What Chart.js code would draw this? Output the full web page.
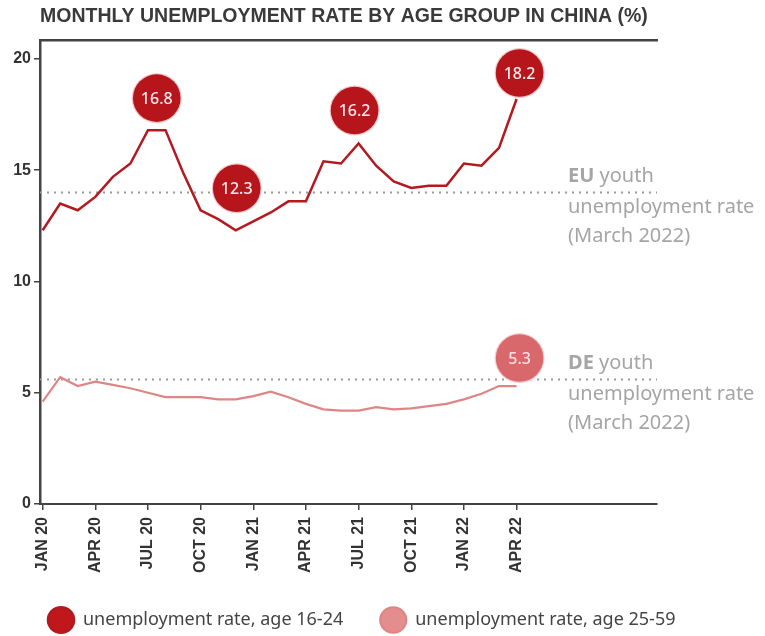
<!DOCTYPE html>
<html><head><meta charset="utf-8">
<script src="https://cdn.jsdelivr.net/npm/chart.js@4/dist/chart.umd.min.js"></script>
<style>html,body{margin:0;padding:0;background:#fff}#wrap{width:765px;height:636px;position:relative}</style>
</head><body><div id="wrap"><canvas id="c"></canvas></div>
<script>
const months = ['JAN 20','FEB 20','MAR 20','APR 20','MAY 20','JUN 20','JUL 20','AUG 20','SEP 20','OCT 20','NOV 20','DEC 20',
  'JAN 21','FEB 21','MAR 21','APR 21','MAY 21','JUN 21','JUL 21','AUG 21','SEP 21','OCT 21','NOV 21','DEC 21',
  'JAN 22','FEB 22','MAR 22','APR 22'];
const tickLabels = ['JAN 20','APR 20','JUL 20','OCT 20','JAN 21','APR 21','JUL 21','OCT 21','JAN 22','APR 22'];
const yTickValues = [0, 5, 10, 15, 20];
const youth16to24 = [12.3,13.5,13.2,13.8,14.7,15.3,16.8,16.8,14.9,13.2,12.8,12.3,12.7,13.1,13.6,13.6,15.4,15.3,16.2,15.2,14.5,14.2,14.3,14.3,15.3,15.2,16.0,18.2];
const adult25to59 = [4.6,5.7,5.3,5.5,5.35,5.2,5.0,4.8,4.8,4.8,4.7,4.7,4.85,5.05,4.8,4.5,4.25,4.2,4.2,4.35,4.25,4.3,4.4,4.5,4.7,4.95,5.3,5.3];
const seriesNames = ['unemployment rate, age 16-24', 'unemployment rate, age 25-59'];
const euYouthRate = 14.0;
const deYouthRate = 5.6;
const refNoteBold = ['EU', 'DE'];
const refNoteRest = [' youth', 'unemployment rate', '(March 2022)'];
const chartTitle = 'MONTHLY UNEMPLOYMENT RATE BY AGE GROUP IN CHINA (%)';

const X_MIN = -0.15, X_MAX = 35, Y_MAX = 20.85;
const COL_YOUTH = '#b3191f', COL_ADULT = '#df8585';

const callouts = [
  {ds: 0, idx: [6, 7], dx: 0, dy: -32, fill: '#b5151b', ring: '#f2c6c6', text: '#fdeeee'},
  {ds: 0, idx: [11], dx: 1, dy: -42, fill: '#b5151b', ring: '#f2c6c6', text: '#fdeeee'},
  {ds: 0, idx: [18], dx: -4, dy: -33, fill: '#b5151b', ring: '#f2c6c6', text: '#fdeeee'},
  {ds: 0, idx: [27], dx: 3, dy: -26, fill: '#b5151b', ring: '#f2c6c6', text: '#fdeeee'},
  {ds: 1, idx: [27], dx: 3, dy: -28, fill: '#d9686d', ring: '#f4d0d0', text: '#fbe3e3'}
];

const calloutPlugin = {
  id: 'callouts',
  afterDatasetsDraw(chart) {
    const ctx = chart.ctx;
    callouts.forEach(c => {
      const meta = chart.getDatasetMeta(c.ds);
      const pts = c.idx.map(i => meta.data[i]);
      const x = pts.reduce((s, p) => s + p.x, 0) / pts.length + c.dx;
      const y = pts.reduce((s, p) => s + p.y, 0) / pts.length + c.dy;
      const val = chart.data.datasets[c.ds].data[c.idx[0]].y;
      ctx.save();
      ctx.beginPath();
      ctx.arc(x, y, 25, 0, Math.PI * 2);
      ctx.fillStyle = c.ring;
      ctx.fill();
      ctx.beginPath();
      ctx.arc(x, y, 23.8, 0, Math.PI * 2);
      ctx.fillStyle = c.fill;
      ctx.fill();
      ctx.fillStyle = c.text;
      ctx.font = '500 16px "Noto Sans"';
      ctx.textAlign = 'center';
      ctx.textBaseline = 'middle';
      ctx.fillText(val.toFixed(1), x, y + 1);
      ctx.restore();
    });
  }
};

const notesPlugin = {
  id: 'refNotes',
  afterDraw(chart) {
    const ctx = chart.ctx;
    const ys = chart.scales.y;
    const x0 = chart.chartArea.right - 89;
    [euYouthRate, deYouthRate].forEach((v, k) => {
      const yRef = ys.getPixelForValue(v);
      ctx.save();
      ctx.fillStyle = '#a5a5a5';
      ctx.textBaseline = 'middle';
      ctx.textAlign = 'left';
      ctx.font = 'bold 20px "Noto Sans"';
      ctx.fillText(refNoteBold[k], x0, yRef - 16);
      const w = ctx.measureText(refNoteBold[k]).width;
      ctx.font = '20px "Noto Sans"';
      ctx.fillText(refNoteRest[0], x0 + w, yRef - 16);
      ctx.fillText(refNoteRest[1], x0, yRef + 15);
      ctx.fillText(refNoteRest[2], x0, yRef + 44);
      ctx.restore();
    });
  }
};

const zeroVPad = s => { s.paddingTop = 0; s.paddingBottom = 0; };
const zeroHPad = s => { s.paddingLeft = 0; s.paddingRight = 0; };

new Chart(document.getElementById('c'), {
  type: 'line',
  data: {
    datasets: [
      {label: seriesNames[0], data: youth16to24.map((v, i) => ({x: i, y: v})), borderColor: COL_YOUTH,
       backgroundColor: '#c0171d', borderWidth: 2.5, pointRadius: 0, pointStyle: 'circle', tension: 0, order: 1},
      {label: seriesNames[1], data: adult25to59.map((v, i) => ({x: i, y: v})), borderColor: COL_ADULT,
       backgroundColor: '#e48d8f', borderWidth: 2.2, pointRadius: 0, pointStyle: 'circle', tension: 0, order: 2},
      {label: 'EU', data: [{x: X_MIN, y: euYouthRate}, {x: X_MAX, y: euYouthRate}], borderColor: '#9a9a9a',
       borderWidth: 2, borderDash: [2, 5], pointRadius: 0, order: 3},
      {label: 'DE', data: [{x: X_MIN, y: deYouthRate}, {x: X_MAX, y: deYouthRate}], borderColor: '#9a9a9a',
       borderWidth: 2, borderDash: [2, 5], pointRadius: 0, order: 3}
    ]
  },
  options: {
    responsive: true,
    maintainAspectRatio: false,
    animation: false,
    layout: {padding: {top: 0, left: 11, right: 0, bottom: -3}},
    scales: {
      x: {
        type: 'linear', position: 'bottom', min: X_MIN, max: X_MAX,
        afterBuildTicks: s => { s.ticks = tickLabels.map(l => ({value: months.indexOf(l)})); },
        afterFit: s => { s.height = 70; zeroHPad(s); },
        ticks: {callback: v => months[v], minRotation: 90, maxRotation: 90, autoSkip: false, padding: 7,
                color: '#333', font: {family: 'Liberation Sans', weight: 'bold', size: 16}},
        grid: {drawOnChartArea: false, tickLength: 6, color: '#444', lineWidth: 1.5},
        border: {color: '#444', width: 2}
      },
      xTop: {
        type: 'linear', position: 'top', min: X_MIN, max: X_MAX, display: true,
        afterFit: s => { s.height = 0; zeroHPad(s); },
        grid: {display: false}, ticks: {display: false}, border: {display: true, color: '#444', width: 2.5}
      },
      y: {
        type: 'linear', position: 'left', min: 0, max: Y_MAX,
        afterBuildTicks: s => { s.ticks = yTickValues.map(v => ({value: v})); },
        afterFit: s => { s.width = 29; zeroVPad(s); },
        ticks: {color: '#333', padding: 3, font: {family: 'Liberation Sans', weight: 'bold', size: 16}},
        grid: {drawOnChartArea: false, tickLength: 6, color: '#444', lineWidth: 1.5},
        border: {color: '#444', width: 2.5}
      },
      yR: {
        type: 'linear', position: 'right', display: true,
        afterFit: s => { s.width = 108; zeroVPad(s); },
        grid: {display: false}, ticks: {display: false}, border: {display: false}
      }
    },
    plugins: {
      title: {display: true, text: chartTitle, align: 'start', fullSize: false, color: '#3a3a3a',
              padding: {top: 5, bottom: 11.6}, font: {family: 'Liberation Sans', weight: 'bold', size: 19.5}},
      legend: {
        position: 'bottom', align: 'start', fullSize: true,
        labels: {usePointStyle: true, pointStyleWidth: 26, padding: 37, color: '#444',
                 font: {family: 'Noto Sans', size: 18}, filter: item => item.datasetIndex < 2}
      },
      tooltip: {enabled: false}
    }
  },
  plugins: [calloutPlugin, notesPlugin]
});
</script></body></html>
